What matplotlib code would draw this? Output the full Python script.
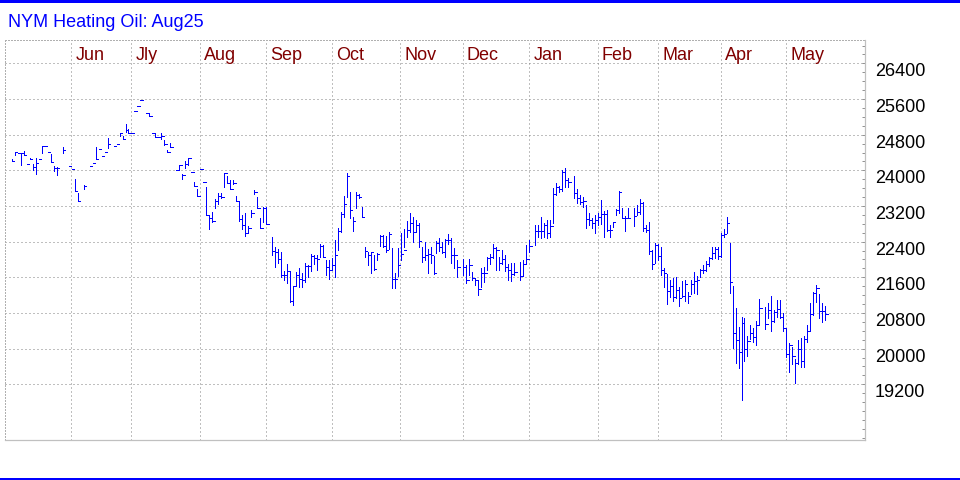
import numpy as np
import matplotlib
matplotlib.use("Agg")
import matplotlib.pyplot as plt
from matplotlib.patches import Rectangle
from matplotlib.ticker import MultipleLocator
from matplotlib.transforms import blended_transform_factory

plt.rcParams["font.family"] = ["Liberation Sans", "DejaVu Sans"]

title = "NYM Heating Oil: Aug25"
months = ["Jun", "Jly", "Aug", "Sep", "Oct", "Nov", "Dec", "Jan", "Feb", "Mar", "Apr", "May"]
# bar index where each month starts
month_pos = [19.8, 40, 63, 85, 107, 129.9, 150.8, 173, 195.9, 216.1, 237.1, 258.9]
yticks = [19200, 20000, 20800, 21600, 22400, 23200, 24000, 24800, 25600, 26400]

# daily high / low / close, None = no trade that day
highs = [
    24260, 24410, 24390, 24390, 24440, 24135, 24280, 24140, 24270, 24245,
    24550, 24550, 24405, 24365, 24095, 24080, None, 24530, None, 24105,
    24030, 23800, 23490, None, 23675, None, 24105, 24155, 24515, 24470,
    24315, 24405, 24730, None, 24545, 24590, 24830, 24780, 25040, 24920,
    24830, 25330, 25440, 25570, None, 25280, 25255, 24830, 24830, 24755,
    24830, 24680, 24455, 24605, None, 24005, 24120, 23915, 24210, 24270,
    23955, 23735, 23575, 24025, 23735, 23620, 22975, 23070, 23350, 23485,
    23495, 23935, 23875, 23780, 23780, 23425, 23320, 23000, 23050, 22750,
    23110, 23560, 23410, 22925, 23170, 23170, None, 22510, 22275, 22230,
    22175, 21750, 21900, 21725, 21400, 21725, 21800, 21705, 21930, 21875,
    22120, 22100, 22100, 22340, 22325, 21990, 21990, 22025, 22440, 22700,
    23060, 23430, 23950, 23515, 22945, 23520, 23460, 23185, 22275, 22175,
    22175, 22100, 22140, 22550, 22550, 22530, 22620, 22250, 21690, 22250,
    22600, 22675, 22870, 23035, 22960, 22885, 22810, 22290, 22400, 22230,
    22275, 22080, 22420, 22480, 22400, 22460, 22580, 22480, 22250, 21990,
    None, 22005, 21875, 22005, 21725, 21575, 21540, 21800, 21825, 22065,
    22125, 22350, 22275, 22065, 22215, 22100, 21900, 21915, 21915, None,
    21950, 21990, 22325, 22440, None, 22775, 22775, 22945, 22810, 22885,
    22885, 23600, 23710, 23650, 24010, 24045, 23820, None, 23875, 23575,
    23445, 23410, 23220, 23035, 22925, 23000, 23035, 23335, 23095, 23110,
    22775, 22845, 23125, 23545, 23150, 22975, 23150, None, 23150, 23220,
    23350, 23295, 22775, 22845, 22215, 22365, 22350, 22290, 21800, 21675,
    21540, 21575, 21600, 21390, 21525, 21540, 21275, 21540, 21725, 21630,
    21780, 21875, 21965, 22050, 22275, 22290, 22275, 22600, 22675, 22945,
    22365, 21400, 20905, 20490, 20715, 20680, 20275, 20530, 20455, 20625,
    21105, None, 20940, 21030, 21180, 20865, 21090, 21090, 20805, 20455,
    20120, 20045, 19760, 20195, 20230, 20275, 20530, 21015, 21275, 21425,
    21225, 21015, 20955,
]
lows = [
    24210, 24350, 24390, 24125, 24335, 24135, 24245, 24005, 23910, 24245,
    24395, 24550, 24405, 24195, 23975, 23900, None, 24395, None, 24105,
    24030, 23530, 23310, None, 23585, None, 24105, 24155, 24245, 24470,
    24315, 24405, 24495, None, 24545, 24590, 24760, 24710, 24865, 24830,
    24830, 25330, 25440, 25570, None, 25280, 25210, 24830, 24745, 24755,
    24700, 24580, 24405, 24530, None, 24005, 24005, 23800, 24045, 24120,
    23955, 23650, 23425, 24025, 23735, 23000, 22680, 22845, 23150, 23235,
    23385, 23635, 23710, 23575, 23685, 23320, 22870, 22685, 22535, 22600,
    22960, 23460, 23150, 22715, 22845, 22795, None, 22105, 21835, 21930,
    21615, 21540, 21480, 21055, 20990, 21400, 21390, 21375, 21500, 21615,
    21750, 21900, 21765, 22065, 22050, 21650, 21555, 21765, 21615, 22215,
    22625, 22960, 23410, 22925, 22645, 23150, 23370, 22945, 22065, 21875,
    21690, 21765, 21990, 22300, 22275, 22175, 22230, 21355, 21355, 21630,
    21990, 22275, 22510, 22625, 22400, 22625, 22275, 21950, 21990, 21705,
    21915, 21675, 22140, 22180, 22140, 22065, 22340, 21915, 21800, 21615,
    None, 21650, 21480, 21650, 21540, 21425, 21205, 21390, 21500, 21765,
    21900, 22025, 21765, 21765, 21900, 21750, 21540, 21525, 21650, None,
    21540, 21650, 21915, 22175, None, 22325, 22510, 22475, 22510, 22475,
    22500, 22825, 23445, 23520, 23545, 23620, 23635, None, 23370, 23260,
    23245, 23170, 22700, 22775, 22700, 22585, 22775, 22795, 22500, 22645,
    22510, 22735, 23000, 23035, 22925, 22645, 22925, None, 22750, 23000,
    23020, 22645, 22625, 22125, 21780, 21915, 21990, 21650, 21390, 21000,
    21165, 21075, 21130, 20955, 21150, 21075, 21030, 21225, 21240, 21225,
    21600, 21690, 21750, 21855, 22005, 22025, 22005, 22050, 22500, 22600,
    21255, 20005, 19685, 19560, 18850, 19730, 19835, 20210, 20155, 20080,
    20555, None, 20435, 20680, 20405, 20605, 20715, 20680, 20405, 19820,
    19485, 19655, 19235, 19655, 19595, 19580, 20155, 20415, 20755, 21055,
    20680, 20605, 20640,
]
closes = [
    24210, 24410, 24390, 24390, 24335, 24135, 24245, 24080, 24155, 24245,
    24550, 24550, 24405, 24195, 24050, 24050, None, 24450, None, 24105,
    24030, 23530, 23310, None, 23640, None, 24105, 24155, 24245, 24470,
    24315, 24405, 24600, None, 24545, 24590, 24830, 24710, 24905, 24830,
    24830, 25330, 25440, 25570, None, 25280, 25210, 24830, 24745, 24755,
    24760, 24600, 24405, 24530, None, 24005, 24120, 23900, 24140, 24270,
    23955, 23650, 23425, 24025, 23735, 23000, 22930, 22870, 23305, 23415,
    23395, 23935, 23715, 23575, 23715, 23320, 22915, 22775, 22600, 22705,
    23050, 23515, 23150, 22715, 23150, 22795, None, 22200, 22165, 22000,
    21650, 21660, 21750, 21070, 21400, 21650, 21570, 21540, 21850, 21850,
    22070, 22030, 22000, 22300, 22060, 21840, 21765, 21875, 22110, 22640,
    23010, 23235, 23870, 23110, 22860, 23450, 23400, 22945, 22180, 22100,
    22160, 21790, 22120, 22535, 22300, 22210, 22580, 21560, 21560, 21870,
    22130, 22210, 22670, 22830, 22610, 22770, 22405, 22055, 22100, 22130,
    22100, 21700, 22360, 22285, 22160, 22445, 22445, 22110, 22110, 21840,
    None, 21830, 21530, 21870, 21580, 21540, 21340, 21690, 21690, 22025,
    22065, 22250, 22215, 21915, 22005, 21830, 21770, 21680, 21710, None,
    21620, 21900, 22010, 22300, None, 22640, 22640, 22640, 22770, 22600,
    22750, 23470, 23630, 23590, 23970, 23790, 23745, None, 23500, 23370,
    23290, 23320, 22900, 22880, 22810, 22885, 22960, 23020, 23020, 22660,
    22660, 22840, 23110, 23520, 22940, 22940, 22940, None, 22970, 23060,
    23260, 22700, 22660, 22200, 21900, 22320, 22080, 21760, 21700, 21290,
    21400, 21150, 21320, 21130, 21170, 21450, 21190, 21445, 21520, 21540,
    21770, 21770, 21900, 22030, 22140, 22240, 22070, 22550, 22570, 22810,
    21505, 20345, 20195, 19920, 20580, 19985, 20180, 20360, 20270, 20530,
    20920, None, 20550, 20860, 20630, 20830, 20900, 20720, 20460, 19880,
    20090, 19840, 19670, 19985, 19720, 20210, 20400, 20780, 21255, 21355,
    20850, 20850, 20770,
]

hi = np.array(highs, dtype=float)
lo = np.array(lows, dtype=float)
cl = np.array(closes, dtype=float)
x = np.arange(len(cl))
ok = ~np.isnan(cl)

fig = plt.figure(figsize=(9.6, 4.8), dpi=100)
ax = fig.add_axes([5 / 960, 40 / 480, 860 / 960, 400 / 480])

bar_col = "#0000ff"
ax.vlines(x[ok], lo[ok], hi[ok], color=bar_col, lw=0.7, antialiased=False, zorder=3)
ax.hlines(cl[ok], x[ok], x[ok] + 0.85, color=bar_col, lw=0.7, antialiased=False, zorder=3)

ax.set_xlim(-2.3, 285.3)
ax.set_ylim(17950, 26925)

# grid
ax.set_xticks(month_pos)
ax.set_yticks(yticks)
ax.yaxis.set_minor_locator(MultipleLocator(200))
ax.grid(True, color="#808080", linestyle=(0, (1, 3)), linewidth=0.72, zorder=1)
ax.tick_params(axis="x", length=0, labelbottom=False)
ax.yaxis.tick_right()
ax.tick_params(axis="y", which="both", direction="in", length=2.5, width=0.7,
               color="#909090", labelsize=13, labelcolor="black", pad=7)
plt.setp(ax.get_yticklabels(), va="top")

for side in ["left", "top"]:
    ax.spines[side].set(color="#b0b0b0", linestyle=(0, (1, 2)), linewidth=0.72)
for side in ["right", "bottom"]:
    ax.spines[side].set(color="#c0c0c0", linewidth=0.9)

# month names at the top, just right of each gridline
trans = blended_transform_factory(ax.transData, ax.transAxes)
for m, p in zip(months, month_pos):
    ax.text(p + 1.4, 0.95, m, transform=trans, color="#800000",
            fontsize=13, va="baseline", ha="left")

fig.text(8 / 960, 1 - 26.7 / 480, title, color="#0000ff", fontsize=13,
         va="baseline", ha="left")

# blue rules at top and bottom of the image
fig.add_artist(Rectangle((0, 1 - 3 / 480), 1, 3 / 480, transform=fig.transFigure,
                         color="#0000ff", lw=0))
fig.add_artist(Rectangle((0, 0), 1, 2.5 / 480, transform=fig.transFigure,
                         color="#0000ff", lw=0))

fig.savefig("out.png", dpi=100)
